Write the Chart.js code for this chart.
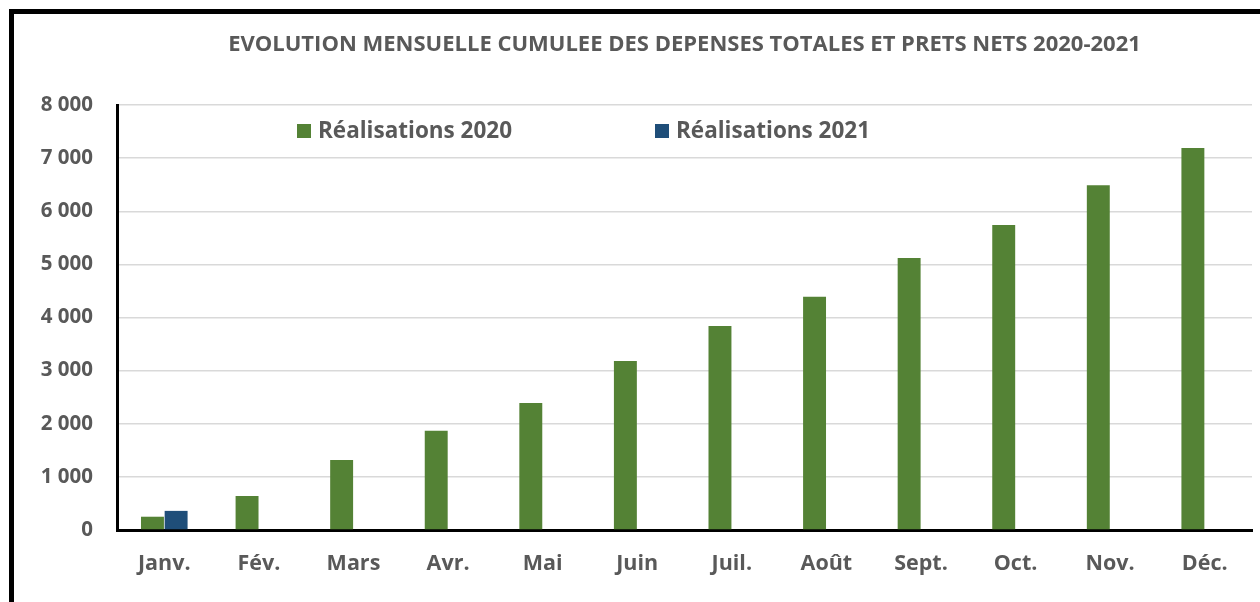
<!DOCTYPE html>
<html>
<head>
<meta charset="utf-8">
<script src="https://cdn.jsdelivr.net/npm/chart.js@4"></script>
<style>
    html, body { margin: 0; padding: 0; background: #fff; }
    #wrap { position: relative; width: 1260px; height: 602px; overflow: hidden; }
    #frame { position: absolute; left: 9px; top: 9px; width: 1300px; height: 700px;
             border-left: 5px solid #000; border-top: 5px solid #000; pointer-events: none; }
    canvas { position: absolute; left: 0; top: 0; }
</style>
</head>
<body>
<div id="wrap">
    <canvas id="chart" width="1260" height="602"></canvas>
    <div id="frame"></div>
</div>
<script>
const months = ['Janv.', 'Fév.', 'Mars', 'Avr.', 'Mai', 'Juin', 'Juil.', 'Août', 'Sept.', 'Oct.', 'Nov.', 'Déc.'];
const real2020 = [250, 640, 1320, 1870, 2390, 3180, 3840, 4390, 5120, 5740, 6490, 7190];
const real2021 = [360, null, null, null, null, null, null, null, null, null, null, null];
const seriesNames = ['Réalisations 2020', 'Réalisations 2021'];
const yTicks = [0, 1000, 2000, 3000, 4000, 5000, 6000, 7000, 8000];
const chartTitle = 'EVOLUTION MENSUELLE CUMULEE DES DEPENSES TOTALES ET PRETS NETS 2020-2021';

const FONT = '"Open Sans", Lato, sans-serif';
const GREY = '#595959';

// title + legend drawn inside the plot, like the excel original
const overlay = {
    id: 'overlay',
    afterDraw(c) {
        const ctx = c.ctx;
        const a = c.chartArea;
        ctx.save();
        ctx.fillStyle = GREY;
        ctx.font = 'bold 22px ' + FONT;
        ctx.textAlign = 'center';
        ctx.textBaseline = 'middle';
        ctx.fillText(chartTitle, (a.left + a.right) / 2, 45);

        const xs = [297, 655];
        ctx.font = 'bold 22.5px ' + FONT;
        ctx.textAlign = 'left';
        c.data.datasets.forEach((ds, i) => {
            ctx.fillStyle = ds.backgroundColor;
            ctx.fillRect(xs[i], 124, 14, 14);
            ctx.fillStyle = GREY;
            ctx.fillText(ds.label, xs[i] + 21, 132);
        });
        ctx.restore();
    }
};

new Chart(document.getElementById('chart'), {
    type: 'bar',
    data: {
        labels: months,
        datasets: [
            { label: seriesNames[0], data: real2020, backgroundColor: '#548235' },
            { label: seriesNames[1], data: real2021, backgroundColor: '#1f4e79' }
        ]
    },
    options: {
        responsive: false,
        animation: false,
        layout: { padding: { left: 0, right: 8, top: 105, bottom: 0 } },
        datasets: { bar: { categoryPercentage: 0.5, barPercentage: 0.97 } },
        plugins: {
            legend: { display: false },
            title: { display: false },
            tooltip: { enabled: false }
        },
        scales: {
            x: {
                grid: { display: false, drawTicks: false },
                border: { color: '#000', width: 3 },
                ticks: { color: GREY, font: { family: FONT, size: 21.5, weight: 'bold' }, padding: 21 },
                afterFit: s => { s.height = 72; }
            },
            y: {
                min: 0,
                max: 8000,
                afterBuildTicks: s => { s.ticks = yTicks.map(v => ({ value: v })); },
                grid: { color: '#d9d9d9', lineWidth: 1.5, drawTicks: false },
                border: { color: '#000', width: 3 },
                ticks: {
                    color: GREY,
                    font: { family: FONT, size: 20.5, weight: 'bold' },
                    padding: 24,
                    callback: v => String(v).replace(/\B(?=(\d{3})+(?!\d))/g, ' ')
                },
                afterFit: s => { s.width = 117; }
            }
        }
    },
    plugins: [overlay]
});
</script>
</body>
</html>
